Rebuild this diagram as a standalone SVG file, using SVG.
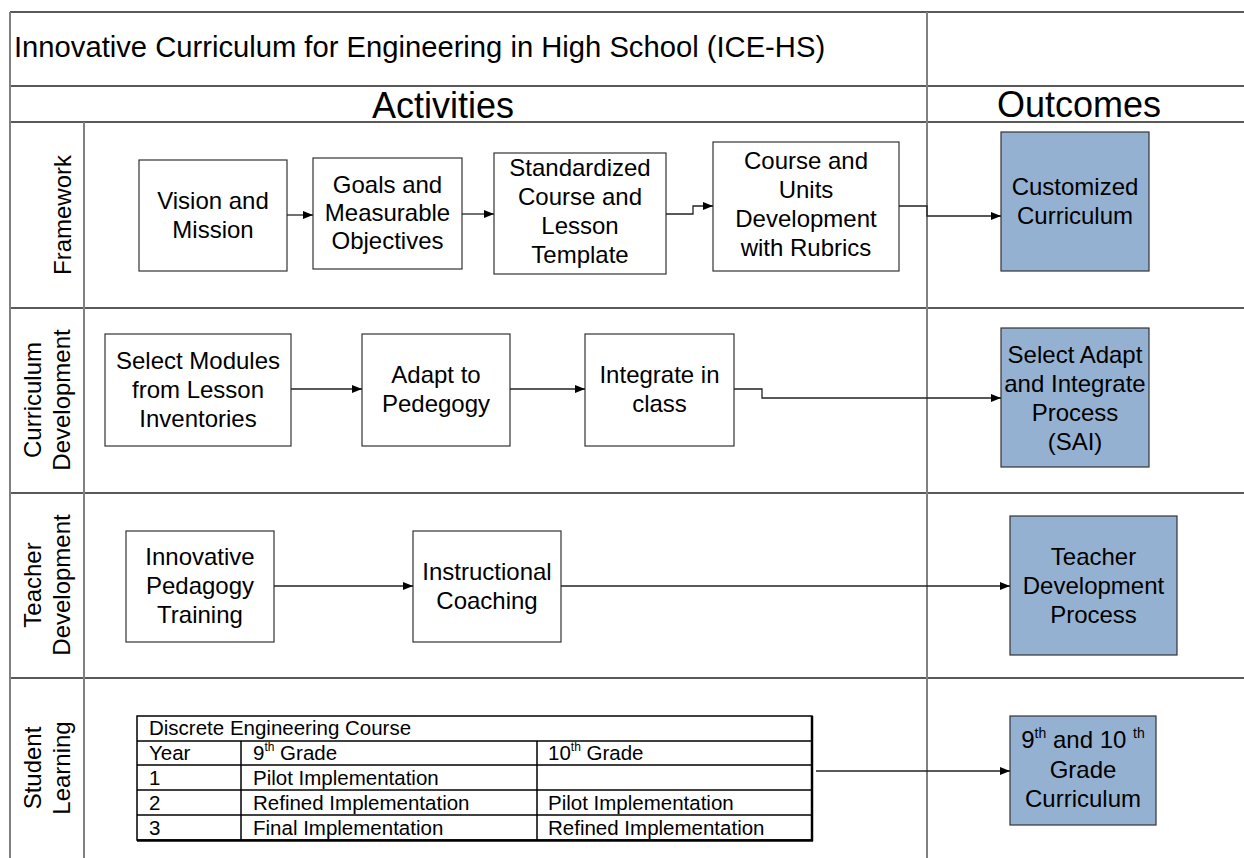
<svg xmlns="http://www.w3.org/2000/svg" width="1244" height="858" viewBox="0 0 1244 858">
<style>
text{font-family:"Liberation Sans",Arial,sans-serif;fill:#000}
.frame{stroke:#222;stroke-width:1.5;fill:none}
.vline{stroke:#808080;stroke-width:2;fill:none}
.box{fill:#fff;stroke:#333;stroke-width:1.2}
.out{fill:#95b1d1;stroke:#333;stroke-width:1.2}
.t{font-size:24px;text-anchor:middle}
.lane{font-size:24px;text-anchor:middle}
.tb{font-size:20.5px}
.conn{stroke:#222;stroke-width:1.3;fill:none}
.tbl{stroke:#000;stroke-width:1.5;fill:none}
</style>
<defs>
<marker id="arr" markerUnits="userSpaceOnUse" markerWidth="11" markerHeight="10" refX="10" refY="5" orient="auto">
<path d="M0,1 L10,5 L0,9 z" fill="#000"/>
</marker>
</defs>
<rect width="1244" height="858" fill="#fff"/>
<g id="frame">
<line class="frame" x1="10" y1="12" x2="1244" y2="12"/>
<line class="frame" x1="10" y1="86" x2="1244" y2="86"/>
<line class="frame" x1="10" y1="122" x2="1244" y2="122"/>
<line class="frame" x1="10" y1="308" x2="1244" y2="308"/>
<line class="frame" x1="10" y1="493" x2="1244" y2="493"/>
<line class="frame" x1="10" y1="678" x2="1244" y2="678"/>
<line class="vline" x1="10" y1="12" x2="10" y2="858"/>
<line class="vline" x1="84" y1="122" x2="84" y2="858"/>
<line class="vline" x1="927" y1="12" x2="927" y2="858"/>
<text x="14" y="57" font-size="29.2">Innovative Curriculum for Engineering in High School (ICE-HS)</text>
<text x="443" y="118" font-size="36" text-anchor="middle">Activities</text>
<text x="1079" y="117" font-size="36" text-anchor="middle">Outcomes</text>
</g>
<g id="lane-framework"><text class="lane" transform="translate(71,215) rotate(-90)">Framework</text></g>
<g id="lane-curriculum"><text class="lane" transform="translate(41,400) rotate(-90)"><tspan x="0" y="0">Curriculum</tspan><tspan x="0" y="29">Development</tspan></text></g>
<g id="lane-teacher"><text class="lane" transform="translate(41,585) rotate(-90)"><tspan x="0" y="0">Teacher</tspan><tspan x="0" y="29">Development</tspan></text></g>
<g id="lane-student"><text class="lane" transform="translate(41,768) rotate(-90)"><tspan x="0" y="0">Student</tspan><tspan x="0" y="29">Learning</tspan></text></g>

<g id="vision"><rect class="box" x="139" y="160" width="148" height="111"/><text class="t"><tspan x="213" y="209">Vision and</tspan><tspan x="213" y="238">Mission</tspan></text></g>
<g id="goals"><rect class="box" x="313" y="158" width="149" height="111"/><text class="t"><tspan x="387.5" y="193">Goals and</tspan><tspan x="387.5" y="221">Measurable</tspan><tspan x="387.5" y="249">Objectives</tspan></text></g>
<g id="standardized"><rect class="box" x="494" y="153" width="172" height="121"/><text class="t"><tspan x="580" y="176">Standardized</tspan><tspan x="580" y="205">Course and</tspan><tspan x="580" y="234">Lesson</tspan><tspan x="580" y="263">Template</tspan></text></g>
<g id="course"><rect class="box" x="713" y="142" width="186" height="129"/><text class="t"><tspan x="806" y="169">Course and</tspan><tspan x="806" y="198">Units</tspan><tspan x="806" y="227">Development</tspan><tspan x="806" y="256">with Rubrics</tspan></text></g>
<g id="customized"><rect class="out" x="1001" y="132" width="148" height="139"/><text class="t"><tspan x="1075" y="195">Customized</tspan><tspan x="1075" y="224">Curriculum</tspan></text></g>

<g id="select"><rect class="box" x="105" y="334" width="186" height="112"/><text class="t"><tspan x="198" y="369">Select Modules</tspan><tspan x="198" y="398">from Lesson</tspan><tspan x="198" y="427">Inventories</tspan></text></g>
<g id="adapt"><rect class="box" x="362" y="334" width="148" height="112"/><text class="t"><tspan x="436" y="383">Adapt to</tspan><tspan x="436" y="412">Pedegogy</tspan></text></g>
<g id="integrate"><rect class="box" x="585" y="334" width="149" height="112"/><text class="t"><tspan x="659.5" y="383">Integrate in</tspan><tspan x="659.5" y="412">class</tspan></text></g>
<g id="sai"><rect class="out" x="1001" y="328" width="148" height="139"/><text class="t"><tspan x="1075" y="363">Select Adapt</tspan><tspan x="1075" y="392">and Integrate</tspan><tspan x="1075" y="421">Process</tspan><tspan x="1075" y="450">(SAI)</tspan></text></g>

<g id="innovative"><rect class="box" x="126" y="531" width="148" height="111"/><text class="t"><tspan x="200" y="565">Innovative</tspan><tspan x="200" y="594">Pedagogy</tspan><tspan x="200" y="623">Training</tspan></text></g>
<g id="instructional"><rect class="box" x="413" y="531" width="148" height="111"/><text class="t"><tspan x="487" y="580">Instructional</tspan><tspan x="487" y="609">Coaching</tspan></text></g>
<g id="tdp"><rect class="out" x="1010" y="516" width="167" height="139"/><text class="t"><tspan x="1093.5" y="565">Teacher</tspan><tspan x="1093.5" y="594">Development</tspan><tspan x="1093.5" y="623">Process</tspan></text></g>

<g id="table">
<rect class="tbl" x="137" y="716" width="675" height="124" fill="#fff"/>
<line class="tbl" x1="137" y1="741" x2="812" y2="741"/>
<line class="tbl" x1="137" y1="765" x2="812" y2="765"/>
<line class="tbl" x1="137" y1="790" x2="812" y2="790"/>
<line class="tbl" x1="137" y1="815" x2="812" y2="815"/>
<line class="tbl" x1="241" y1="741" x2="241" y2="840"/>
<line class="tbl" x1="537" y1="741" x2="537" y2="840"/>
<line x1="812" y1="716" x2="812" y2="841" stroke="#000" stroke-width="2.5"/>
<line x1="137" y1="840.5" x2="813" y2="840.5" stroke="#000" stroke-width="2.5"/>
<text class="tb" x="149" y="735">Discrete Engineering Course</text>
<text class="tb" x="149" y="760">Year</text>
<text class="tb" x="253" y="760">9<tspan font-size="12" dy="-9">th</tspan><tspan dy="9"> Grade</tspan></text>
<text class="tb" x="548" y="760">10<tspan font-size="12" dy="-9">th</tspan><tspan dy="9"> Grade</tspan></text>
<text class="tb" x="149" y="785">1</text>
<text class="tb" x="253" y="785">Pilot Implementation</text>
<text class="tb" x="149" y="810">2</text>
<text class="tb" x="253" y="810">Refined Implementation</text>
<text class="tb" x="548" y="810">Pilot Implementation</text>
<text class="tb" x="149" y="835">3</text>
<text class="tb" x="253" y="835">Final Implementation</text>
<text class="tb" x="548" y="835">Refined Implementation</text>
</g>
<g id="grade"><rect class="out" x="1010" y="716" width="146" height="109"/><text class="t"><tspan x="1083" y="748">9<tspan font-size="14" dy="-10">th</tspan><tspan dy="10"> and 10 </tspan><tspan font-size="14" dy="-10">th</tspan></tspan><tspan x="1083" y="778">Grade</tspan><tspan x="1083" y="807">Curriculum</tspan></text></g>

<g id="connectors">
<path class="conn" d="M287,215 H313" marker-end="url(#arr)"/>
<path class="conn" d="M462,214 H494" marker-end="url(#arr)"/>
<path class="conn" d="M666,214 H693 V206 H713" marker-end="url(#arr)"/>
<path class="conn" d="M899,206 H927 V216 H1001" marker-end="url(#arr)"/>
<path class="conn" d="M291,389 H362" marker-end="url(#arr)"/>
<path class="conn" d="M510,389 H585" marker-end="url(#arr)"/>
<path class="conn" d="M734,389 H762 V398 H1001" marker-end="url(#arr)"/>
<path class="conn" d="M274,586 H413" marker-end="url(#arr)"/>
<path class="conn" d="M561,586 H1010" marker-end="url(#arr)"/>
<path class="conn" d="M816,771 H1010" marker-end="url(#arr)"/>
</g>
</svg>
